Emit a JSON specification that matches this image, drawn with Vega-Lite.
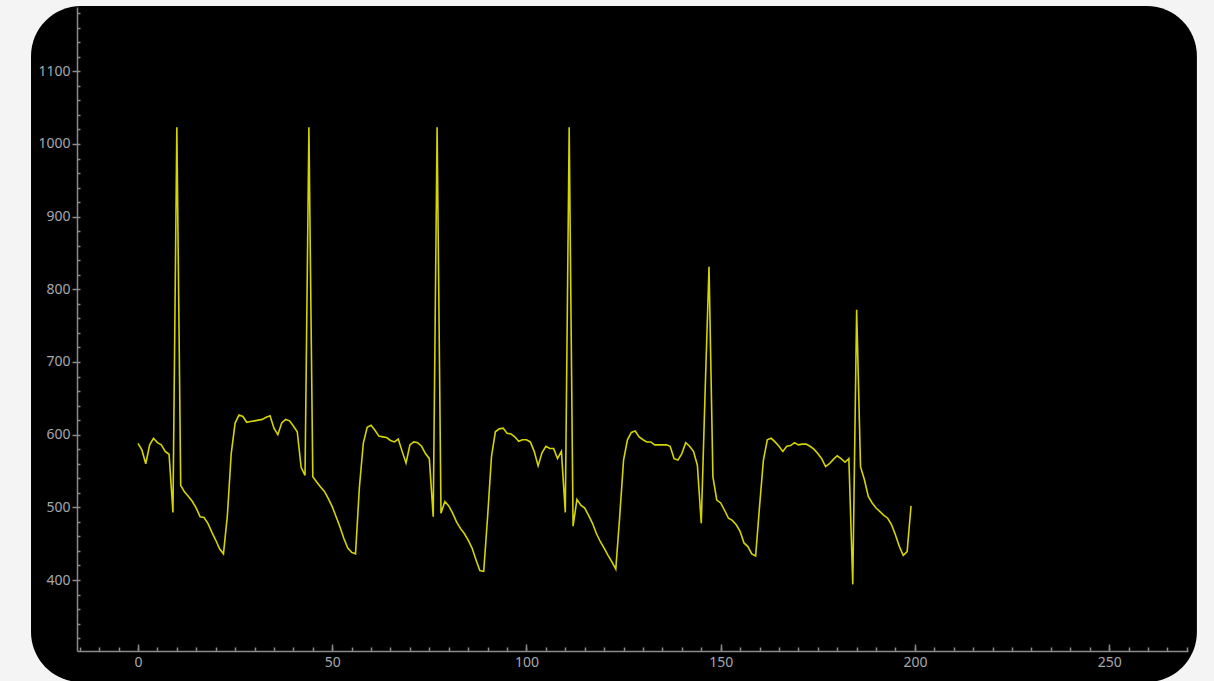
{
  "$schema": "https://vega.github.io/schema/vega-lite/v6.json",
  "width": 1111,
  "height": 644,
  "autosize": {"type": "none"},
  "padding": {"left": 77, "top": 7, "right": 26, "bottom": 30},
  "background": "#f4f4f4",
  "config": {
    "view": {"stroke": null},
    "axis": {
      "labelFont": "Noto Sans",
      "labelFontSize": 14,
      "labelColor": "#a6a8ad",
      "domainColor": "#8a8a8a",
      "tickColor": "#8a8a8a",
      "grid": false,
      "title": null,
      "zindex": 1
    }
  },
  "data": {"values": [
    {"x":0,"y":588},{"x":1,"y":579},{"x":2,"y":560},{"x":3,"y":586},{"x":4,"y":595},{"x":5,"y":589},{"x":6,"y":586},{"x":7,"y":577},{"x":8,"y":573},{"x":9,"y":493},
    {"x":10,"y":1023},{"x":11,"y":530},{"x":12,"y":521},{"x":13,"y":515},{"x":14,"y":508},{"x":15,"y":499},{"x":16,"y":487},{"x":17,"y":486},{"x":18,"y":478},{"x":19,"y":466},
    {"x":20,"y":455},{"x":21,"y":443},{"x":22,"y":436},{"x":23,"y":488},{"x":24,"y":574},{"x":25,"y":616},{"x":26,"y":627},{"x":27,"y":625},{"x":28,"y":617},{"x":29,"y":618},
    {"x":30,"y":619},{"x":31,"y":620},{"x":32,"y":621},{"x":33,"y":624},{"x":34,"y":626},{"x":35,"y":609},{"x":36,"y":600},{"x":37,"y":616},{"x":38,"y":621},{"x":39,"y":619},
    {"x":40,"y":612},{"x":41,"y":604},{"x":42,"y":555},{"x":43,"y":544},{"x":44,"y":1023},{"x":45,"y":542},{"x":46,"y":535},{"x":47,"y":528},{"x":48,"y":522},{"x":49,"y":512},
    {"x":50,"y":501},{"x":51,"y":487},{"x":52,"y":473},{"x":53,"y":457},{"x":54,"y":444},{"x":55,"y":438},{"x":56,"y":436},{"x":57,"y":528},{"x":58,"y":588},{"x":59,"y":610},
    {"x":60,"y":613},{"x":61,"y":606},{"x":62,"y":598},{"x":63,"y":597},{"x":64,"y":596},{"x":65,"y":592},{"x":66,"y":590},{"x":67,"y":594},{"x":68,"y":577},{"x":69,"y":561},
    {"x":70,"y":586},{"x":71,"y":590},{"x":72,"y":589},{"x":73,"y":584},{"x":74,"y":574},{"x":75,"y":567},{"x":76,"y":487},{"x":77,"y":1023},{"x":78,"y":492},{"x":79,"y":508},
    {"x":80,"y":502},{"x":81,"y":492},{"x":82,"y":480},{"x":83,"y":471},{"x":84,"y":464},{"x":85,"y":455},{"x":86,"y":444},{"x":87,"y":428},{"x":88,"y":413},{"x":89,"y":412},
    {"x":90,"y":487},{"x":91,"y":570},{"x":92,"y":604},{"x":93,"y":608},{"x":94,"y":609},{"x":95,"y":602},{"x":96,"y":601},{"x":97,"y":597},{"x":98,"y":591},{"x":99,"y":593},
    {"x":100,"y":593},{"x":101,"y":590},{"x":102,"y":577},{"x":103,"y":557},{"x":104,"y":575},{"x":105,"y":584},{"x":106,"y":581},{"x":107,"y":581},{"x":108,"y":567},{"x":109,"y":577},
    {"x":110,"y":493},{"x":111,"y":1023},{"x":112,"y":474},{"x":113,"y":511},{"x":114,"y":503},{"x":115,"y":499},{"x":116,"y":489},{"x":117,"y":478},{"x":118,"y":464},{"x":119,"y":453},
    {"x":120,"y":444},{"x":121,"y":434},{"x":122,"y":425},{"x":123,"y":415},{"x":124,"y":487},{"x":125,"y":565},{"x":126,"y":593},{"x":127,"y":603},{"x":128,"y":605},{"x":129,"y":597},
    {"x":130,"y":593},{"x":131,"y":590},{"x":132,"y":590},{"x":133,"y":586},{"x":134,"y":586},{"x":135,"y":586},{"x":136,"y":586},{"x":137,"y":584},{"x":138,"y":567},{"x":139,"y":565},
    {"x":140,"y":574},{"x":141,"y":589},{"x":142,"y":584},{"x":143,"y":577},{"x":144,"y":558},{"x":145,"y":478},{"x":146,"y":660},{"x":147,"y":831},{"x":148,"y":542},{"x":149,"y":510},
    {"x":150,"y":506},{"x":151,"y":496},{"x":152,"y":485},{"x":153,"y":482},{"x":154,"y":476},{"x":155,"y":467},{"x":156,"y":451},{"x":157,"y":446},{"x":158,"y":436},{"x":159,"y":433},
    {"x":160,"y":501},{"x":161,"y":565},{"x":162,"y":593},{"x":163,"y":595},{"x":164,"y":590},{"x":165,"y":584},{"x":166,"y":577},{"x":167,"y":584},{"x":168,"y":585},{"x":169,"y":589},
    {"x":170,"y":586},{"x":171,"y":587},{"x":172,"y":587},{"x":173,"y":584},{"x":174,"y":580},{"x":175,"y":574},{"x":176,"y":567},{"x":177,"y":556},{"x":178,"y":560},{"x":179,"y":566},
    {"x":180,"y":571},{"x":181,"y":567},{"x":182,"y":562},{"x":183,"y":567},{"x":184,"y":394},{"x":185,"y":772},{"x":186,"y":556},{"x":187,"y":538},{"x":188,"y":515},{"x":189,"y":506},
    {"x":190,"y":499},{"x":191,"y":494},{"x":192,"y":489},{"x":193,"y":485},{"x":194,"y":476},{"x":195,"y":462},{"x":196,"y":446},{"x":197,"y":434},{"x":198,"y":439},{"x":199,"y":502}
  ]},
  "layer": [
    {
      "data": {"values": [{}]},
      "mark": {"type": "rect", "color": "#000000", "cornerRadius": 50, "clip": false},
      "encoding": {
        "x": {
          "datum": -27.54, "type": "quantitative",
          "scale": {"domain": [-15.7, 270.3], "nice": false, "zero": false},
          "axis": {
            "orient": "bottom",
            "values": [-15,-10,-5,0,5,10,15,20,25,30,35,40,45,50,55,60,65,70,75,80,85,90,95,100,105,110,115,120,125,130,135,140,145,150,155,160,165,170,175,180,185,190,195,200,205,210,215,220,225,230,235,240,245,250,255,260,265,270],
            "tickSize": -4, "tickWidth": 1.5, "labels": false, "domain": false, "title": null, "zindex": 1
          }
        },
        "x2": {"datum": 272.59},
        "y": {
          "datum": 1189.9, "type": "quantitative",
          "scale": {"domain": [302.3, 1188.5], "nice": false, "zero": false},
          "axis": {
            "orient": "left",
            "values": [320,340,360,380,400,420,440,460,480,500,520,540,560,580,600,620,640,660,680,700,720,740,760,780,800,820,840,860,880,900,920,940,960,980,1000,1020,1040,1060,1080,1100,1120,1140,1160,1180],
            "tickSize": -3, "tickWidth": 1.5, "labels": false, "domain": false, "title": null, "zindex": 1
          }
        },
        "y2": {"datum": 259.6}
      }
    },
    {
      "mark": {"type": "line", "color": "#d4d400", "strokeWidth": 1.6},
      "encoding": {
        "x": {
          "field": "x", "type": "quantitative",
          "scale": {"domain": [-15.7, 270.3], "nice": false, "zero": false},
          "axis": {
            "orient": "bottom",
            "values": [0, 50, 100, 150, 200, 250],
            "format": "d",
            "tickSize": -7, "tickWidth": 1.5, "domainWidth": 1.5, "labelPadding": 11, "title": null, "zindex": 1
          }
        },
        "y": {
          "field": "y", "type": "quantitative",
          "scale": {"domain": [302.3, 1188.5], "nice": false, "zero": false},
          "axis": {
            "orient": "left",
            "values": [400, 500, 600, 700, 800, 900, 1000, 1100],
            "format": "d",
            "tickSize": 5, "tickWidth": 1.5, "domainWidth": 1.5, "labelPadding": 2, "title": null, "zindex": 1
          }
        }
      }
    }
  ],
  "resolve": {"axis": {"x": "independent", "y": "independent"}}
}
